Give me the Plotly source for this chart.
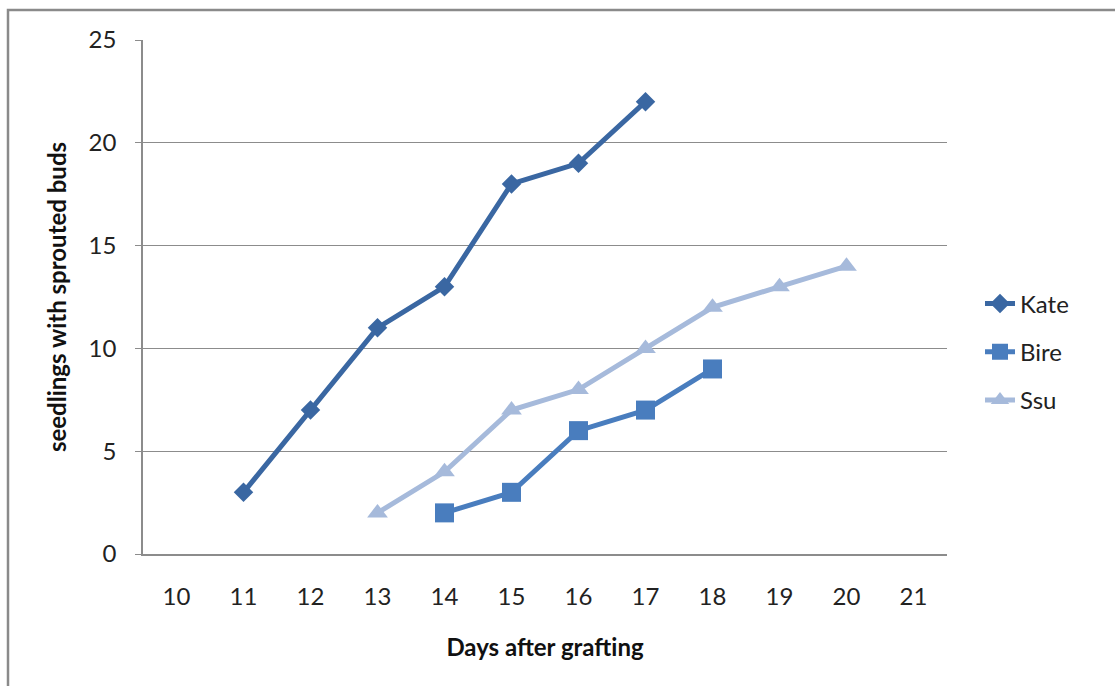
import plotly.graph_objects as go

# Data
kate_days = [11, 12, 13, 14, 15, 16, 17]
kate_vals = [3, 7, 11, 13, 18, 19, 22]
bire_days = [14, 15, 16, 17, 18]
bire_vals = [2, 3, 6, 7, 9]
ssu_days = [13, 14, 15, 16, 17, 18, 19, 20]
ssu_vals = [2, 4, 7, 8, 10, 12, 13, 14]
x_ticks = [10, 11, 12, 13, 14, 15, 16, 17, 18, 19, 20, 21]
y_ticks = [0, 5, 10, 15, 20, 25]

W, H = 1115, 686
L, R, T, B = 143, 168, 40, 132
pw, ph = W - L - R, H - T - B

FONT = "Lato, 'Open Sans', sans-serif"
GRID = "#8c8c8c"
FS = 24

fig = go.Figure()
fig.add_trace(go.Scatter(
    x=kate_days, y=kate_vals, name="Kate", mode="lines+markers",
    line=dict(color="#3A67A2", width=5),
    marker=dict(symbol="diamond", size=15, color="#3A67A2"),
    legendgroup="a"))
fig.add_trace(go.Scatter(
    x=bire_days, y=bire_vals, name="Bire", mode="lines+markers",
    line=dict(color="#497DBE", width=5),
    marker=dict(symbol="square", size=19, color="#497DBE"),
    legendgroup="b"))
fig.add_trace(go.Scatter(
    x=ssu_days, y=ssu_vals, name="Ssu", mode="lines+markers",
    line=dict(color="#A6BADB", width=5),
    marker=dict(symbol="triangle-up", size=18, color="#A6BADB"),
    legendgroup="c"))

# outer chart border
fig.add_shape(type="rect", xref="paper", yref="paper",
              x0=(8 - L) / pw, x1=(W + 20 - L) / pw,
              y0=(ph - (H + 20 - T)) / ph, y1=(ph - (10 - T)) / ph,
              line=dict(color="#8a8a8a", width=2.5), fillcolor="rgba(0,0,0,0)",
              layer="below")

fig.update_layout(
    width=W, height=H, autosize=False,
    margin=dict(l=L, r=R, t=T, b=B),
    paper_bgcolor="white", plot_bgcolor="white",
    font=dict(family=FONT, size=FS, color="#222222"),
    showlegend=True,
    legend=dict(x=(980 - L) / pw, xanchor="left", y=(ph - (352 - T)) / ph, yanchor="middle",
                font=dict(size=FS, color="#222222"), tracegroupgap=14,
                bgcolor="rgba(0,0,0,0)"),
    xaxis=dict(range=[9.5, 21.5], tickmode="array", tickvals=x_ticks,
               ticktext=[str(v) for v in x_ticks],
               showgrid=False, zeroline=False, showline=True, linecolor=GRID, linewidth=1.5,
               ticks="", ticklabelstandoff=20,
               tickfont=dict(size=FS, color="#222222"),
               title=dict(text="<b>Days after grafting</b>", standoff=31,
                          font=dict(size=FS, color="#111111"))),
    yaxis=dict(range=[0, 25], tickmode="array", tickvals=y_ticks,
               showgrid=True, gridcolor=GRID, gridwidth=1.2, zeroline=False,
               showline=True, linecolor=GRID, linewidth=1.5,
               ticks="outside", ticklen=6, tickcolor=GRID, ticklabelstandoff=14,
               tickfont=dict(size=FS, color="#222222"),
               title=dict(text="<b>seedlings with sprouted buds</b>", standoff=15,
                          font=dict(size=FS, color="#111111"))),
)

fig.write_html("out.html")
